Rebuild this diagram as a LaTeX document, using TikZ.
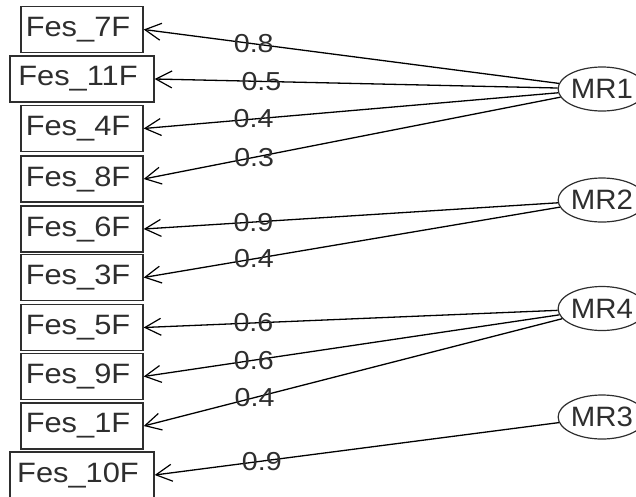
\documentclass[tikz,border=0pt]{standalone}
\usepackage{fontspec}
\usetikzlibrary{shapes.geometric,arrows.meta}
\setmainfont{Liberation Sans}
\newcommand{\boxfnt}{\fontsize{28}{28}\selectfont}
\newcommand{\mrfnt}{\fontsize{28}{28}\selectfont}
\newcommand{\labfnt}{\fontsize{26}{26}\selectfont}
\newcommand{\wx}[1]{\scalebox{1.1}[1]{#1}\hspace*{8pt}}
\newcommand{\wm}[1]{\scalebox{1.05}[1]{#1}}
\newcommand{\wl}[1]{\scalebox{1.1}[1]{#1}}
\colorlet{ink}{black!82}
\tikzset{
  obs/.style={draw=ink, line width=1.4pt, rectangle, minimum height=46pt, inner xsep=0pt, inner ysep=0pt, minimum width=122pt, font=\boxfnt, text=ink},
  obswide/.style={obs, minimum width=144pt},
  lat/.style={draw=ink, line width=1.2pt, ellipse, minimum width=74pt, minimum height=44pt, inner sep=0pt, font=\mrfnt, text=ink},
  load/.style={draw=black, line width=1.3pt, -{Straight Barb[length=16pt,width=17pt,line width=1.2pt]}},
  lbl/.style={pos=0.735, font=\labfnt, text=ink, inner sep=0pt}
}
\begin{document}
\begin{tikzpicture}[x=1pt,y=-1pt]
\useasboundingbox (0,0) rectangle (636,496);
\node[obs] (f7) at (82,29.5) {\wx{Fes\_7F}};
\node[obswide] (f11) at (82,79) {\wx{Fes\_11F}};
\node[obs] (f4) at (82,128.5) {\wx{Fes\_4F}};
\node[obs] (f8) at (82,179) {\wx{Fes\_8F}};
\node[obs] (f6) at (82,229) {\wx{Fes\_6F}};
\node[obs] (f3) at (82,277.5) {\wx{Fes\_3F}};
\node[obs] (f5) at (82,327.5) {\wx{Fes\_5F}};
\node[obs] (f9) at (82,376.5) {\wx{Fes\_9F}};
\node[obs] (f1) at (82,426) {\wx{Fes\_1F}};
\node[obswide] (f10) at (82,475) {\wx{Fes\_10F}};
\node[lat] (mr1) at (602,89) {\wm{MR1}};
\node[lat] (mr2) at (602,200) {\wm{MR2}};
\node[lat] (mr4) at (602,308.5) {\wm{MR4}};
\node[lat] (mr3) at (602,417) {\wm{MR3}};
\draw[load] (mr1) -- (f7.east) node[lbl] {\wl{0.8}};
\draw[load] (mr1) -- (f11.east) node[lbl] {\wl{0.5}};
\draw[load] (mr1) -- (f4.east) node[lbl] {\wl{0.4}};
\draw[load] (mr1) -- (f8.east) node[lbl] {\wl{0.3}};
\draw[load] (mr2) -- (f6.east) node[lbl] {\wl{0.9}};
\draw[load] (mr2) -- (f3.east) node[lbl] {\wl{0.4}};
\draw[load] (mr4) -- (f5.east) node[lbl] {\wl{0.6}};
\draw[load] (mr4) -- (f9.east) node[lbl] {\wl{0.6}};
\draw[load] (mr4) -- (f1.east) node[lbl] {\wl{0.4}};
\draw[load] (mr3) -- (f10.east) node[lbl] {\wl{0.9}};
\end{tikzpicture}
\end{document}
